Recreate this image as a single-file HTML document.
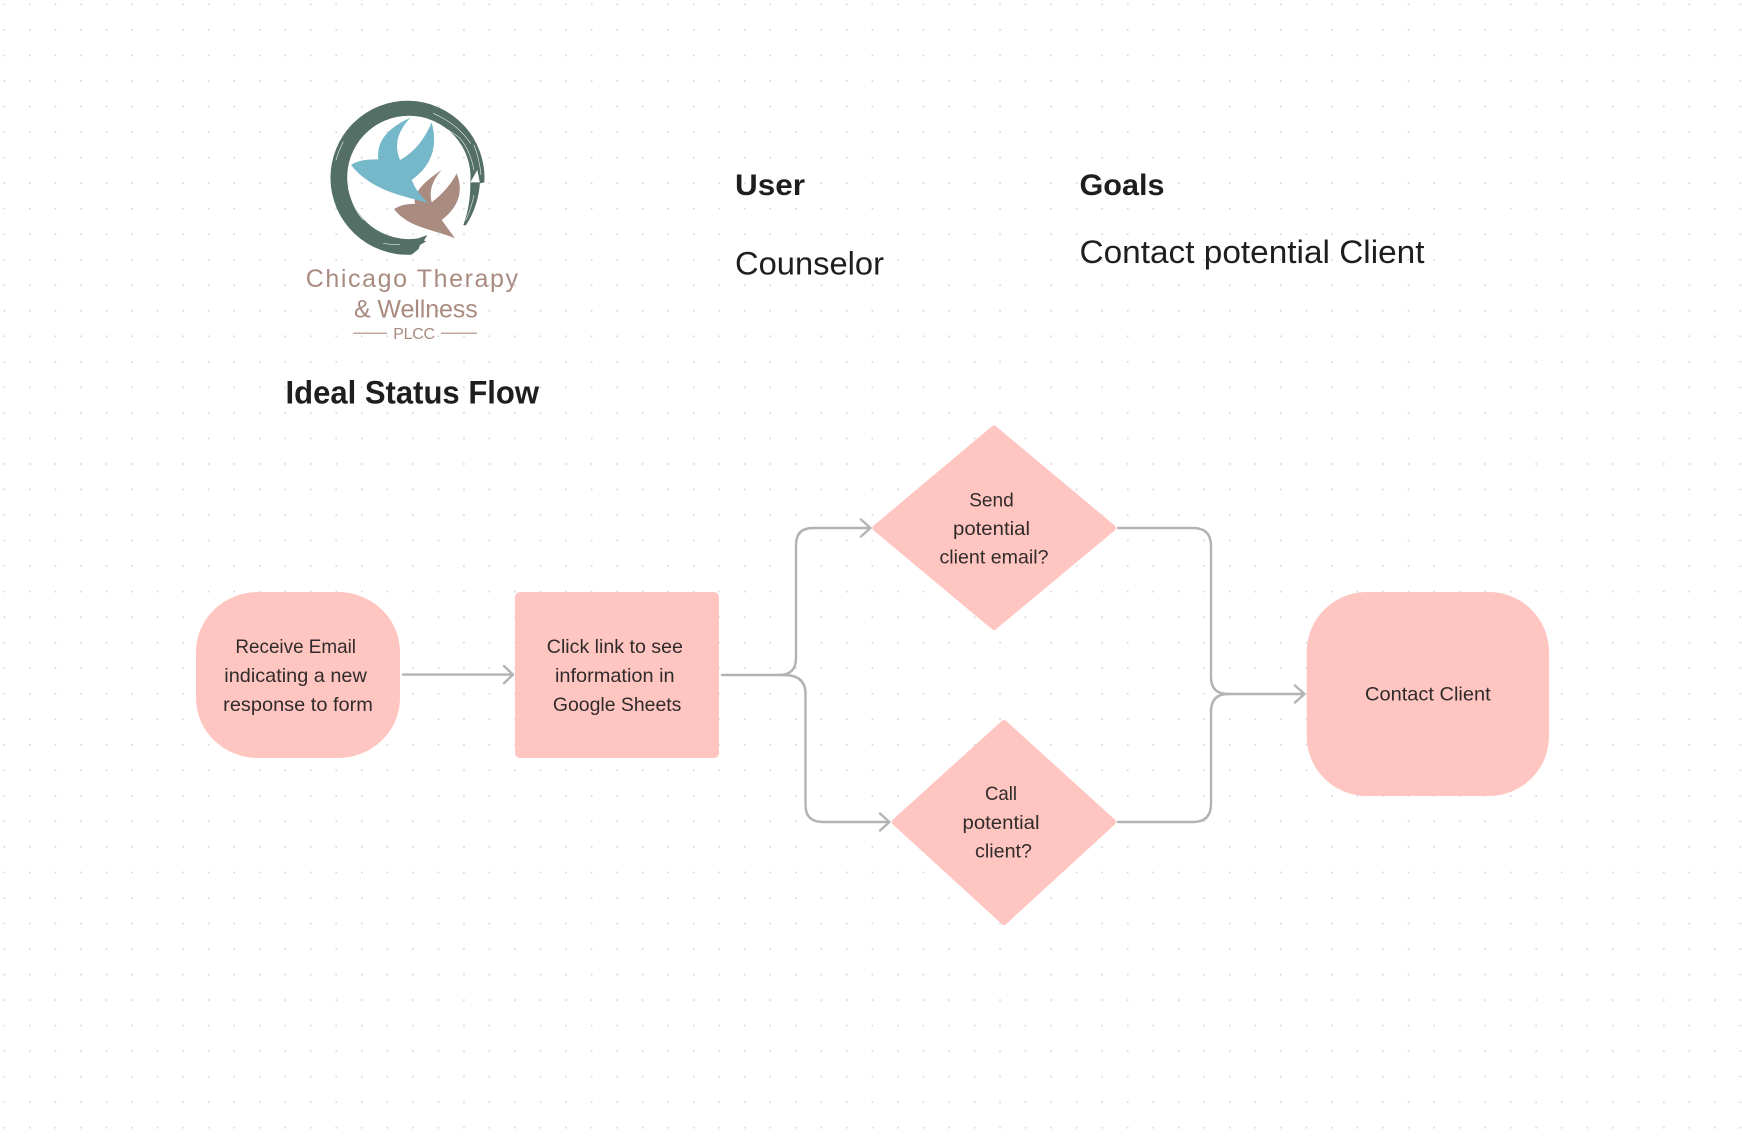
<!DOCTYPE html>
<html><head><meta charset="utf-8"><style>
html,body{margin:0;padding:0;background:#fff}
svg{display:block}
text{font-family:"Liberation Sans",sans-serif}
.b{font-size:19.5px;fill:#302b2b}
.h{font-weight:700;fill:#1e1e1e}
.r{font-size:32px;fill:#1e1e1e}
.l{fill:#a98b80}
.c{fill:none;stroke:#b3b3b3;stroke-width:2.4;stroke-linecap:round;stroke-linejoin:round}
</style></head><body>
<svg width="1742" height="1140" viewBox="0 0 1742 1140" xmlns="http://www.w3.org/2000/svg">
<defs><pattern id="d" x="0" y="0" width="25.53" height="25.53" patternUnits="userSpaceOnUse"><circle cx="4.4" cy="4.4" r="1" fill="#d8d8d8"/></pattern></defs>
<rect width="1742" height="1140" fill="#fff"/>
<rect width="1742" height="1140" fill="url(#d)"/>

<!-- logo -->
<g transform="translate(320 95) scale(.33333)">
<path fill="#536f66" d="M322,420 L312,436 L318,440 L300,450 L296,462 L275,479 A231,231 0 1 1 493,262 L480,265 L472,225 L451,262 A185,185 0 1 0 295,430 Z"/>
<path fill="#536f66" d="M480,262 Q475,335 437,392 L430,390 Q452,330 451,262 Z"/>
<g fill="none" stroke="#fff" stroke-width="1.6" stroke-linecap="round">
<path d="M260,70 Q350,72 420,130 Q450,165 462,225"/>
<path d="M340,55 Q410,85 452,145"/>
<path d="M70,140 Q55,170 48,195"/>
<path d="M85,280 Q100,345 130,375"/>
<path d="M190,445 Q215,450 240,448"/>
<path d="M462,300 Q452,345 438,375"/>
<path d="M462,150 Q478,190 483,240"/>
</g>
<path fill="#a98b80" d="M222,342 Q250,325 285,327 Q275,284 365,225 Q322,272 335,322 Q387,281 410,235 Q442,315 365,375 L405,430 C350,405 265,400 222,342 Z"/>
<path fill="#75b8c9" d="M93,210 Q116,192 175,193 Q165,115 272,68 Q212,128 240,195 Q302,161 335,82 Q365,191 275,255 Q285,285 325,325 C270,305 160,295 93,210 Z"/>
</g>
<text class="l" x="305.7" y="287" font-size="25" textLength="212.3" lengthAdjust="spacing">Chicago Therapy</text>
<text class="l" x="354" y="317.3" font-size="25" textLength="123.7" lengthAdjust="spacing">&amp; Wellness</text>
<text class="l" x="393.3" y="339" font-size="16" textLength="41.7" lengthAdjust="spacing">PLCC</text>
<path d="M353.3,333.3H387M441,333.3H477" stroke="#c0a89f" stroke-width="1.5" fill="none"/>

<text class="h" x="285.5" y="403.3" font-size="32" textLength="253.5" lengthAdjust="spacingAndGlyphs">Ideal Status Flow</text>
<text class="h" x="735" y="195" font-size="30" textLength="70" lengthAdjust="spacingAndGlyphs">User</text>
<text class="h" x="1079.5" y="195" font-size="30" textLength="85" lengthAdjust="spacingAndGlyphs">Goals</text>
<text class="r" x="735" y="274.5" textLength="149" lengthAdjust="spacingAndGlyphs">Counselor</text>
<text class="r" x="1079.5" y="263" textLength="345" lengthAdjust="spacingAndGlyphs">Contact potential Client</text>

<!-- shapes -->
<rect x="196" y="592" width="204" height="166" rx="62" ry="60" fill="#ffc5c0"/>
<rect x="515" y="592" width="204" height="166" rx="5" fill="#ffc5c0"/>
<polygon points="875.4,528 994,428.5 1113,528 994,627" fill="#ffc5c0" stroke="#ffc5c0" stroke-width="6" stroke-linejoin="round"/>
<polygon points="894.7,822 1004,723 1113,822 1004,922" fill="#ffc5c0" stroke="#ffc5c0" stroke-width="6" stroke-linejoin="round"/>
<rect x="1306.7" y="592" width="242.3" height="204" rx="60" fill="#ffc5c0"/>

<!-- connectors -->
<path class="c" d="M403,674.6H512.5M504,666L513,674.6L504,683.2"/>
<path class="c" d="M722,675H779Q796,675 796,658V545Q796,528 813,528H870M861,519.5L870.5,528L861,536.5"/>
<path class="c" d="M779,675H784Q805.5,675 805.5,694V805Q805.5,822 823,822H889M880,813.5L889.5,822L880,830.5"/>
<path class="c" d="M1118,528H1193Q1211,528 1211,546V677Q1211,694 1228,694H1304M1295,685.5L1304.5,694L1295,702.5"/>
<path class="c" d="M1118,822H1193Q1211,822 1211,804V712Q1211,694 1228,694"/>

<!-- labels -->
<text class="b" x="235.4" y="653" textLength="120.6" lengthAdjust="spacingAndGlyphs">Receive Email</text>
<text class="b" x="224.3" y="682" textLength="142.5" lengthAdjust="spacingAndGlyphs">indicating a new</text>
<text class="b" x="223.2" y="711" textLength="149.7" lengthAdjust="spacingAndGlyphs">response to form</text>
<text class="b" x="546.8" y="653" textLength="136.1" lengthAdjust="spacingAndGlyphs">Click link to see</text>
<text class="b" x="555" y="682" textLength="119.6" lengthAdjust="spacingAndGlyphs">information in</text>
<text class="b" x="552.9" y="711" textLength="128.5" lengthAdjust="spacingAndGlyphs">Google Sheets</text>
<text class="b" x="969.2" y="506.3" textLength="44.6" lengthAdjust="spacingAndGlyphs">Send</text>
<text class="b" x="953" y="535" textLength="77" lengthAdjust="spacingAndGlyphs">potential</text>
<text class="b" x="939.5" y="563.7" textLength="109" lengthAdjust="spacingAndGlyphs">client email?</text>
<text class="b" x="985" y="800" textLength="32" lengthAdjust="spacingAndGlyphs">Call</text>
<text class="b" x="962.5" y="829" textLength="77" lengthAdjust="spacingAndGlyphs">potential</text>
<text class="b" x="975" y="857.7" textLength="57" lengthAdjust="spacingAndGlyphs">client?</text>
<text class="b" x="1365" y="700.7" textLength="125.7" lengthAdjust="spacingAndGlyphs">Contact Client</text>
</svg>
</body></html>
